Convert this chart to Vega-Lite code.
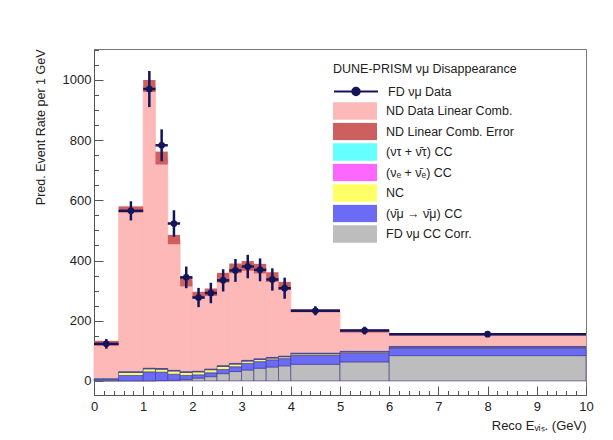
{
  "$schema": "https://vega.github.io/schema/vega-lite/v6.json",
  "width": 492,
  "height": 346,
  "autosize": {"type": "none"},
  "padding": {"left": 94, "top": 49, "right": 27, "bottom": 45},
  "background": "white",
  "config": {
    "font": "Liberation Sans",
    "view": {"stroke": "#777", "strokeWidth": 1},
    "axis": {"grid": false, "labelOverlap": false, "zindex": 1, "domainColor": "#555", "tickColor": "#555", "labelColor": "#222", "titleColor": "#222", "labelFont": "Liberation Sans", "titleFont": "Liberation Sans", "labelFontSize": 13, "titleFontSize": 12.5, "titleFontWeight": "normal"},
    "legend": {"labelFont": "Liberation Sans", "titleFont": "Liberation Sans", "labelFontSize": 12.5, "titleFontSize": 12.5, "titleFontWeight": "normal", "labelColor": "#222", "titleColor": "#222", "padding": 0, "rowPadding": 2.5, "labelOffset": 9, "clipHeight": 18, "titleLimit": 400, "labelLimit": 400}
  },
  "resolve": {"axis": {"x": "independent", "y": "independent"}},
  "datasets": {
    "bins": [
      {"lo": 0, "hi": 0.5, "mid": 0.25, "total": 125, "bandLo": 117, "bandHi": 133, "data": 123, "err": 16, "g": 0, "b": 2, "y": 3, "m": 0, "c": 2},
      {"lo": 0.5, "hi": 1.0, "mid": 0.75, "total": 570, "bandLo": 560, "bandHi": 580, "data": 565, "err": 32, "g": 0, "b": 18, "y": 10, "m": 1, "c": 1},
      {"lo": 1.0, "hi": 1.25, "mid": 1.125, "total": 980, "bandLo": 960, "bandHi": 1000, "data": 970, "err": 60, "g": 0, "b": 30, "y": 10, "m": 1, "c": 1},
      {"lo": 1.25, "hi": 1.5, "mid": 1.375, "total": 740, "bandLo": 719, "bandHi": 762, "data": 783, "err": 53, "g": 1, "b": 28, "y": 10, "m": 1, "c": 1},
      {"lo": 1.5, "hi": 1.75, "mid": 1.625, "total": 470, "bandLo": 454, "bandHi": 485, "data": 523, "err": 44, "g": 2, "b": 20, "y": 11, "m": 1, "c": 1},
      {"lo": 1.75, "hi": 2.0, "mid": 1.875, "total": 330, "bandLo": 314, "bandHi": 346, "data": 344, "err": 36, "g": 4, "b": 14, "y": 10, "m": 1, "c": 1},
      {"lo": 2.0, "hi": 2.25, "mid": 2.125, "total": 285, "bandLo": 274, "bandHi": 296, "data": 277, "err": 32, "g": 9, "b": 11, "y": 10, "m": 1, "c": 1},
      {"lo": 2.25, "hi": 2.5, "mid": 2.375, "total": 295, "bandLo": 282, "bandHi": 307, "data": 292, "err": 34, "g": 14, "b": 13, "y": 10, "m": 1, "c": 1},
      {"lo": 2.5, "hi": 2.75, "mid": 2.625, "total": 343, "bandLo": 327, "bandHi": 359, "data": 334, "err": 37, "g": 24, "b": 14, "y": 10, "m": 1, "c": 1},
      {"lo": 2.75, "hi": 3.0, "mid": 2.875, "total": 374, "bandLo": 358, "bandHi": 390, "data": 367, "err": 38, "g": 31, "b": 16, "y": 9, "m": 1, "c": 1},
      {"lo": 3.0, "hi": 3.25, "mid": 3.125, "total": 382, "bandLo": 366, "bandHi": 398, "data": 380, "err": 39, "g": 36, "b": 22, "y": 8, "m": 1, "c": 1},
      {"lo": 3.25, "hi": 3.5, "mid": 3.375, "total": 373, "bandLo": 357, "bandHi": 389, "data": 369, "err": 38, "g": 42, "b": 22, "y": 7, "m": 1, "c": 1},
      {"lo": 3.5, "hi": 3.75, "mid": 3.625, "total": 345, "bandLo": 329, "bandHi": 361, "data": 337, "err": 37, "g": 46, "b": 24, "y": 6, "m": 1, "c": 1},
      {"lo": 3.75, "hi": 4.0, "mid": 3.875, "total": 316, "bandLo": 302, "bandHi": 329, "data": 308, "err": 35, "g": 50, "b": 24, "y": 6, "m": 1, "c": 1},
      {"lo": 4.0, "hi": 5.0, "mid": 4.5, "total": 233, "bandLo": 228, "bandHi": 238, "data": 233, "err": 15, "g": 55, "b": 30, "y": 5, "m": 1, "c": 1},
      {"lo": 5.0, "hi": 6.0, "mid": 5.5, "total": 166, "bandLo": 161, "bandHi": 171, "data": 167, "err": 13, "g": 63, "b": 29, "y": 4, "m": 1, "c": 1},
      {"lo": 6.0, "hi": 10.0, "mid": 8.0, "total": 155, "bandLo": 151, "bandHi": 159, "data": 155, "err": 6, "g": 84, "b": 24, "y": 4, "m": 1, "c": 1}
    ],
    "compinfo": [
      {"key": "g", "k": 1, "name": "FD νμ CC Corr."},
      {"key": "b", "k": 2, "name": "(ν̄μ → ν̄μ) CC"},
      {"key": "y", "k": 3, "name": "NC"},
      {"key": "m", "k": 4, "name": "(νₑ + ν̄ₑ) CC"},
      {"key": "c", "k": 5, "name": "(ντ + ν̄τ) CC"}
    ]
  },
  "layer": [
    {
      "data": {"name": "bins"},
      "mark": {"type": "rect", "stroke": "#fdb8b8", "strokeWidth": 0.8},
      "encoding": {
        "x": {"field": "lo", "type": "quantitative", "title": "Reco Eᵥᵢₛ. (GeV)", "scale": {"domain": [0, 10], "nice": false, "zero": false},
          "axis": {
            "orient": "bottom",
            "values": [0,1,2,3,4,5,6,7,8,9,10],
            "format": "d",
            "tickSize": -9,
            "labelPadding": 14, "labelFlush": false,
            "titleX": 492, "titleY": 30, "titleAlign": "right", "titleBaseline": "middle", "titleFontSize": 13, "titleAnchor": "end"
          }},
        "x2": {"field": "hi"},
        "y": {"field": "total", "type": "quantitative", "title": "Pred. Event Rate per 1 GeV", "scale": {"domain": [-47, 1103], "nice": false, "zero": false},
          "axis": {
            "orient": "left",
            "values": [0,200,400,600,800,1000],
            "format": "d",
            "tickSize": -9,
            "labelPadding": 12,
            "titleX": -54, "titleY": 0, "titleAlign": "right", "titleAngle": -90, "titleBaseline": "middle", "titleAnchor": "end"
          }},
        "y2": {"datum": 0},
        "fill": {"datum": "ND Data Linear Comb.", "type": "nominal", "title": null,
          "scale": {"domain": ["ND Data Linear Comb.", "ND Linear Comb. Error", "(ντ + ν̄τ) CC", "(νₑ + ν̄ₑ) CC", "NC", "(ν̄μ → ν̄μ) CC", "FD νμ CC Corr."],
                    "range": ["#fdb8b8", "#cd5f5f", "#66ffff", "#ff66ff", "#ffff66", "#6b6bf5", "#bdbdbd"]},
          "legend": {"orient": "none", "legendX": 239, "legendY": 53, "title": null, "symbolType": "M-1,-0.4H1V0.4H-1Z", "symbolSize": 1936, "symbolStrokeWidth": 0}}
      }
    },
    {
      "data": {"name": "bins"},
      "transform": [
        {"fold": ["g", "b", "y", "m", "c"], "as": ["key", "v"]},
        {"lookup": "key", "from": {"data": {"name": "compinfo"}, "key": "key", "fields": ["k", "name"]}},
        {"stack": "v", "groupby": ["lo"], "sort": [{"field": "k", "order": "ascending"}], "as": ["v0", "v1"]}
      ],
      "mark": {"type": "rect", "stroke": "#3a3a96", "strokeWidth": 0.6},
      "encoding": {
        "x": {"field": "lo", "type": "quantitative", "scale": {"domain": [0, 10], "nice": false, "zero": false},
          "axis": {"orient": "bottom", "title": null, "labels": false, "domain": false, "tickSize": -4.5,
            "values": [0.2,0.4,0.6,0.8,1.2,1.4,1.6,1.8,2.2,2.4,2.6,2.8,3.2,3.4,3.6,3.8,4.2,4.4,4.6,4.8,5.2,5.4,5.6,5.8,6.2,6.4,6.6,6.8,7.2,7.4,7.6,7.8,8.2,8.4,8.6,8.8,9.2,9.4,9.6,9.8]}},
        "x2": {"field": "hi"},
        "y": {"field": "v0", "type": "quantitative", "scale": {"domain": [-47, 1103], "nice": false, "zero": false},
          "axis": {"orient": "left", "title": null, "labels": false, "domain": false, "tickSize": -4.5,
            "values": [50,100,150,250,300,350,450,500,550,650,700,750,850,900,950,1050,1100]}},
        "y2": {"field": "v1"},
        "fill": {"field": "name", "type": "nominal", "title": null}
      }
    },
    {
      "data": {"name": "bins"},
      "mark": {"type": "rect"},
      "encoding": {
        "x": {"field": "lo", "type": "quantitative", "scale": {"domain": [0, 10], "nice": false, "zero": false}, "axis": null},
        "x2": {"field": "hi"},
        "y": {"field": "bandLo", "type": "quantitative", "scale": {"domain": [-47, 1103], "nice": false, "zero": false}, "axis": null},
        "y2": {"field": "bandHi"},
        "fill": {"datum": "ND Linear Comb. Error", "type": "nominal", "title": null}
      }
    },
    {
      "data": {"name": "bins"},
      "mark": {"type": "rule", "strokeWidth": 2.5},
      "encoding": {
        "x": {"field": "lo", "type": "quantitative", "scale": {"domain": [0, 10], "nice": false, "zero": false}, "axis": null},
        "x2": {"field": "hi"},
        "y": {"field": "data", "type": "quantitative", "scale": {"domain": [-47, 1103], "nice": false, "zero": false}, "axis": null},
        "stroke": {"datum": "FD νμ Data", "type": "nominal",
          "scale": {"domain": ["FD νμ Data"], "range": ["#14145a"]},
          "legend": {"orient": "none", "legendX": 239, "legendY": 14, "title": "DUNE-PRISM νμ Disappearance", "titlePadding": 7,
            "symbolType": "M-1,0H1M0.17,0A0.17,0.17,0,1,1,-0.17,0A0.17,0.17,0,1,1,0.17,0", "symbolSize": 1936, "symbolStrokeWidth": 2, "symbolFillColor": "#14145a",
            "encode": {"symbols": {"update": {"fill": {"value": "#14145a"}}}}}}
      }
    },
    {
      "data": {"name": "bins"},
      "mark": {"type": "errorbar", "ticks": false, "thickness": 2.5, "color": "#14145a"},
      "encoding": {
        "x": {"field": "mid", "type": "quantitative", "scale": {"domain": [0, 10], "nice": false, "zero": false}, "axis": null},
        "y": {"field": "data", "type": "quantitative", "scale": {"domain": [-47, 1103], "nice": false, "zero": false}, "axis": null},
        "yError": {"field": "err"}
      }
    },
    {
      "data": {"name": "bins"},
      "mark": {"type": "point", "filled": true, "size": 45, "opacity": 1, "color": "#14145a"},
      "encoding": {
        "x": {"field": "mid", "type": "quantitative", "scale": {"domain": [0, 10], "nice": false, "zero": false}, "axis": null},
        "y": {"field": "data", "type": "quantitative", "scale": {"domain": [-47, 1103], "nice": false, "zero": false}, "axis": null}
      }
    }
  ]
}
